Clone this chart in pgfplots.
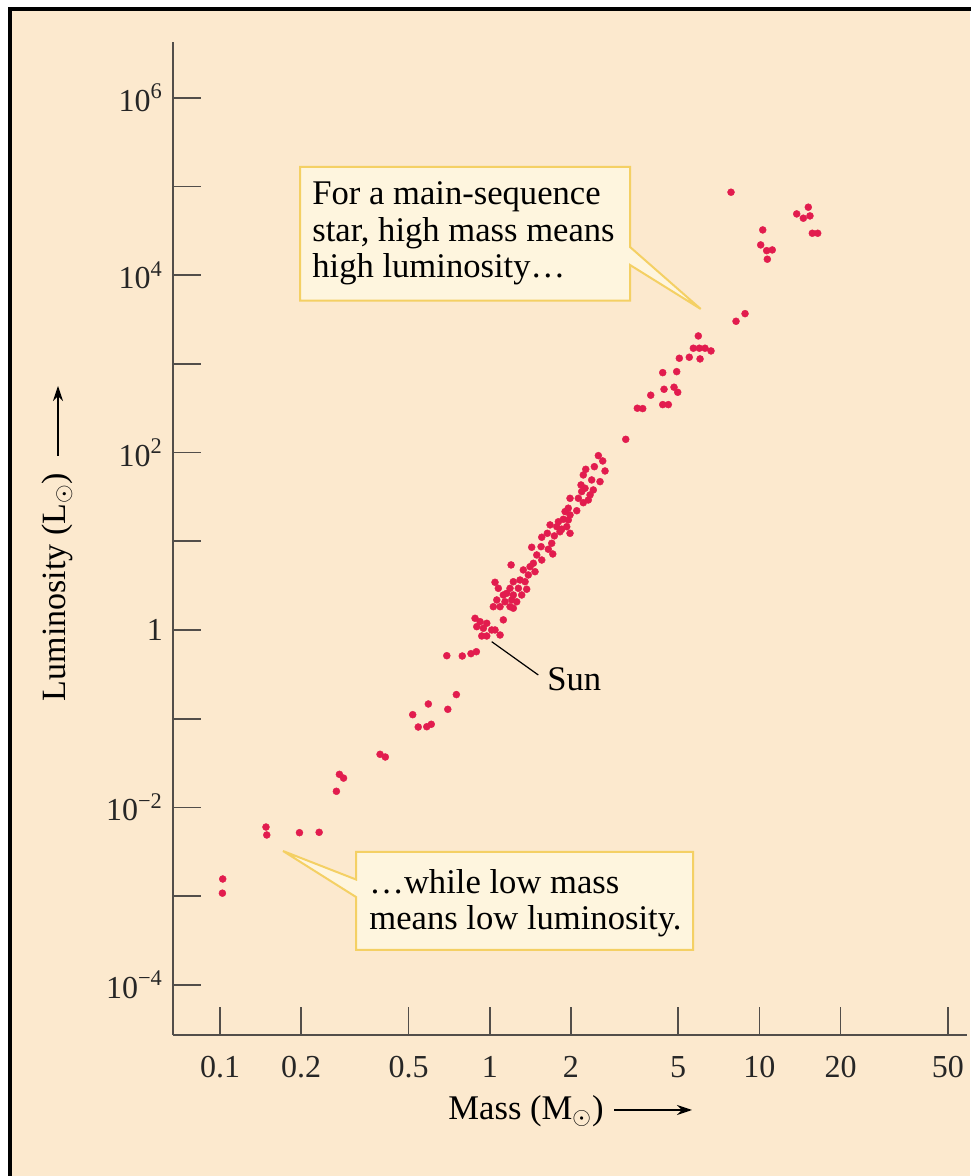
\documentclass[border=0pt]{standalone}
\usepackage{pgfplots}
\pgfplotsset{compat=1.18}
\usepackage{pgfplotstable}
\usepackage{fontspec}
\setmainfont{Liberation Serif}
\usetikzlibrary{arrows.meta}

\definecolor{paper}{RGB}{252,233,206}
\definecolor{calloutfill}{RGB}{254,245,222}
\definecolor{calloutedge}{RGB}{244,208,100}
\definecolor{stardot}{RGB}{226,28,78}
\definecolor{axisgray}{RGB}{82,78,74}

% main-sequence stars: mass (solar masses) and luminosity (solar luminosities)
\pgfplotstableread{
m L
0.102 0.00108
0.1023 0.00156
0.148 0.00601
0.149 0.00489
0.197 0.00519
0.233 0.00524
0.270 0.0152
0.277 0.0236
0.287 0.0214
0.392 0.0397
0.410 0.0370
0.518 0.111
0.543 0.0806
0.584 0.0812
0.607 0.0865
0.592 0.1465
0.699 0.1276
0.752 0.187
0.693 0.513
0.791 0.509
0.852 0.541
0.892 0.569
0.934 0.856
0.975 0.856
1.092 0.878
1.017 1.00
1.046 1.00
0.947 1.045
0.895 1.09
0.975 1.19
0.921 1.24
1.123 1.30
0.882 1.355
1.223 1.76
1.031 1.83
1.092 1.83
1.189 1.83
1.139 2.08
1.259 2.08
1.062 2.18
1.207 2.18
1.123 2.48
1.223 2.48
1.314 2.48
1.156 2.59
1.371 2.88
1.076 2.95
1.189 2.95
1.277 2.95
1.046 3.45
1.223 3.50
1.352 3.50
1.295 3.66
1.390 4.17
1.472 4.54
1.332 4.75
1.411 5.17
1.200 5.41
1.451 5.65
1.559 6.15
1.494 7.01
1.713 7.19
1.649 8.13
1.431 8.56
1.550 8.69
1.698 9.49
1.559 11.1
1.736 11.5
1.635 12.3
1.985 12.3
1.822 12.8
1.849 13.7
1.773 14.6
1.930 14.6
1.674 15.3
1.797 16.6
1.956 17.4
1.875 17.7
1.985 19.8
1.903 21.6
2.102 22.1
1.956 23.6
2.223 27.2
2.320 29.2
1.985 30.5
2.131 30.5
2.355 33.3
2.193 36.3
2.421 37.9
2.256 39.6
2.180 43.1
2.564 47.0
2.388 49.1
2.223 55.9
2.676 62.0
2.270 64.8
2.443 69.3
2.624 80.4
2.528 92.3
3.194 141
3.693 313
3.526 316
4.380 347
4.595 347
3.954 443
4.978 478
4.429 517
4.823 545
4.380 796
4.935 817
6.024 1136
5.047 1156
5.495 1187
6.615 1398
5.689 1500
5.986 1500
6.285 1500
5.935 2063
8.190 3020
8.845 3680
10.70 15110
10.64 18880
11.16 19230
10.11 21900
15.71 29650
16.45 29650
10.29 32330
14.55 43800
15.40 46500
13.75 48980
15.18 58300
7.848 86000
}\stars

\begin{document}
\begin{tikzpicture}
% page background and frame
\fill[white] (0,0) rectangle (485pt,588pt);
\fill[paper] (5pt,0) rectangle (485pt,583.5pt);
\draw[black, line width=2pt] (5pt,-1pt) -- (5pt,583.5pt) -- (486pt,583.5pt);

\begin{axis}[
  at={(86.5pt,70.5pt)}, anchor=south west,
  scale only axis, width=397pt, height=496.7pt,
  xmode=log, ymode=log,
  xmin=0.0669, xmax=58.86, ymin=2.72e-5, ymax=4.29e6,
  axis lines=left,
  axis line style={-, draw=axisgray, line width=1pt},
  tick align=inside,
  major tick length=14pt,
  tick style={draw=axisgray, line width=0.9pt},
  minor tick style={draw=none},
  xtick={0.1,0.2,0.5,1,2,5,10,20,50},
  xticklabels={0.1,0.2,0.5,1,2,5,10,20,50},
  ytick={1e-4,1e-3,1e-2,1e-1,1,10,100,1000,1e4,1e5,1e6},
  yticklabels={{10\textsuperscript{−4}},{},{10\textsuperscript{−2}},{},{1},{},{10\textsuperscript{2}},{},{10\textsuperscript{4}},{},{10\textsuperscript{6}}},
  /pgf/number format/assume math mode=true,
  tick label style={font=\fontsize{16}{16}\selectfont, text=black!85},
  xticklabel style={yshift=-7pt},
  yticklabel style={xshift=-1.5pt},
  clip=false,
]
\addplot[only marks, mark=*, mark size=1.75pt,
  mark options={draw=stardot, fill=stardot, line width=0.2pt}] table[x=m, y=L] {\stars};
\end{axis}

% annotations, laid out in pixel-like units measured from the top left corner
\begin{scope}[shift={(0pt,588pt)}, x=0.5pt, y=-0.5pt]
  \filldraw[fill=calloutfill, draw=calloutedge, line width=1pt, line join=miter]
    (300,167) -- (630,167) -- (630,247) -- (700.7,309) -- (630,265)
    -- (630,300.7) -- (300,300.7) -- cycle;
  \begin{scope}[every node/.style={anchor=base west, inner sep=0pt,
      font=\fontsize{17.3}{20}\selectfont}]
    \node at (312,205) {For a main-sequence};
    \node at (312,242) {star, high mass means};
    \node at (312,278) {high luminosity…};
  \end{scope}

  \filldraw[fill=calloutfill, draw=calloutedge, line width=1pt, line join=miter]
    (356,852) -- (693,852) -- (693,950) -- (356,950) -- (356,897)
    -- (283,851) -- (356,879.5) -- cycle;
  \begin{scope}[every node/.style={anchor=base west, inner sep=0pt,
      font=\fontsize{17.3}{20}\selectfont}]
    \node at (369,894) {…while low mass};
    \node at (369,930) {means low luminosity.};
  \end{scope}

  % the Sun
  \draw[black, line width=0.6pt] (491.7,641.7) -- (538.3,675);
  \node[anchor=base west, inner sep=0pt, font=\fontsize{17.3}{20}\selectfont] at (547,691) {Sun};

  % axis titles
  \node[font=\fontsize{17.3}{20}\selectfont] at (526,1111) {Mass (M$_{\odot}$)};
  \draw[black, line width=0.9pt, -{Stealth[length=7.5pt, width=5pt]}] (614,1110) -- (692,1110);
  \node[rotate=90, font=\fontsize{17}{20}\selectfont] at (57,587) {Luminosity (L$_{\odot}$)};
  \draw[black, line width=0.9pt, -{Stealth[length=7.5pt, width=5pt]}] (58,456) -- (58,386);
\end{scope}

\pgfresetboundingbox
\path[use as bounding box] (0,0) rectangle (485pt,588pt);
\end{tikzpicture}
\end{document}
